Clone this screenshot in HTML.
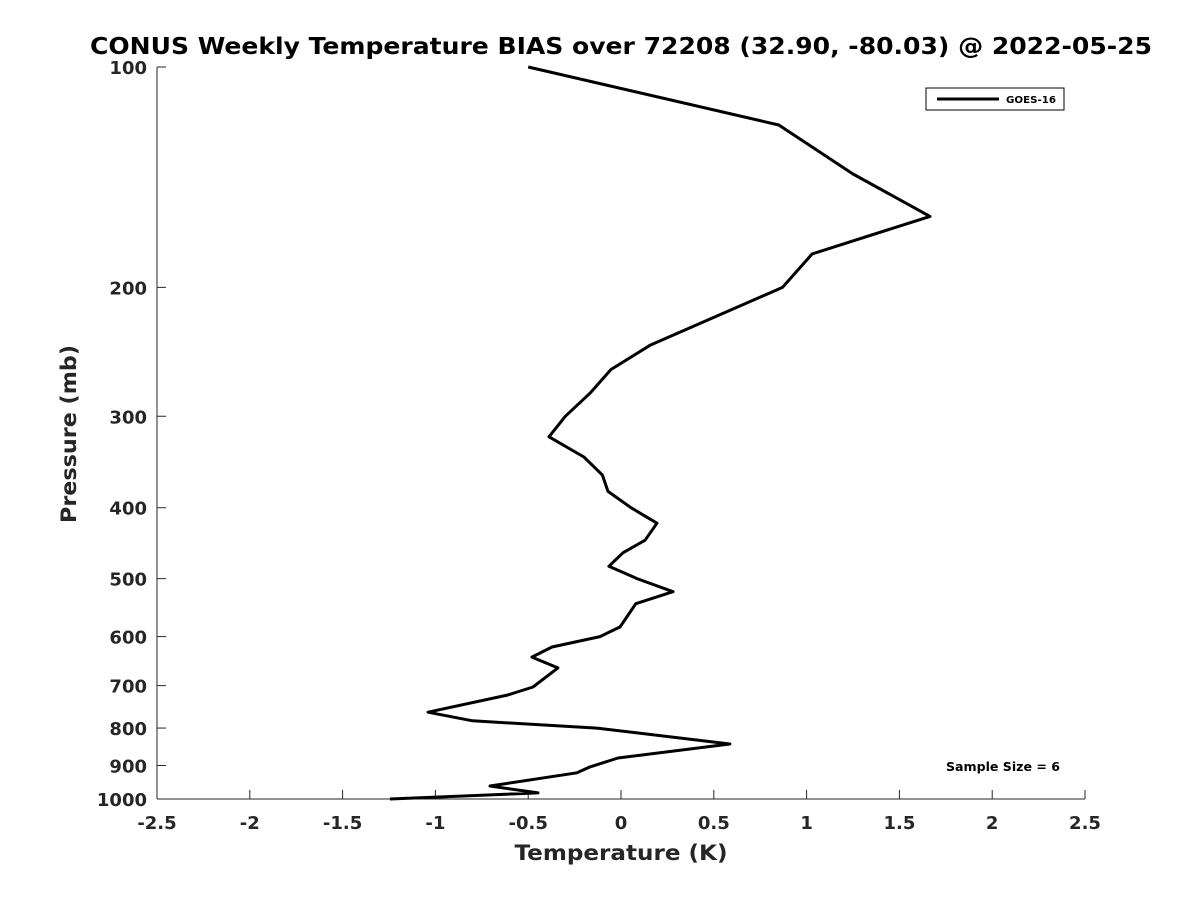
<!DOCTYPE html>
<html><head><meta charset="utf-8"><style>
body{margin:0;background:#fff;}
svg{display:block;font-family:"DejaVu Sans","Liberation Sans",sans-serif;}
</style></head><body>
<svg id="chart" width="1200" height="900">
<text x="621" y="54" text-anchor="middle" font-size="23" font-weight="bold" fill="#000" textLength="1062" lengthAdjust="spacingAndGlyphs">CONUS Weekly Temperature BIAS over 72208 (32.90, -80.03) @ 2022-05-25</text>
<g id="axes"></g>
<text x="621" y="860" text-anchor="middle" font-size="21" font-weight="bold" fill="#262626" textLength="213" lengthAdjust="spacingAndGlyphs">Temperature (K)</text>
<text transform="translate(76,434) rotate(-90)" text-anchor="middle" font-size="21" font-weight="bold" fill="#262626" textLength="178" lengthAdjust="spacingAndGlyphs">Pressure (mb)</text>
<g>
<rect x="926" y="88" width="138" height="22" fill="#fff" stroke="#000" stroke-width="1"/>
<line x1="937" y1="99" x2="999" y2="99" stroke="#000" stroke-width="3"/>
<text x="1006" y="103" font-size="10" font-weight="bold" fill="#000" textLength="50" lengthAdjust="spacingAndGlyphs">GOES-16</text>
</g>
<text x="1003" y="771" text-anchor="middle" font-size="12" font-weight="bold" fill="#000" textLength="114" lengthAdjust="spacingAndGlyphs">Sample Size = 6</text>
</svg>
<script>
const pressures=[100,120,140,160,180,200,240,259,279,300,320,341,361,380,400,420,443,461,481,500,521,541,582,600,620,640,662,703,721,761,782,800,841,879,904,921,960,981,1000];
const biases=[-0.5,0.85,1.25,1.665,1.03,0.87,0.156,-0.054,-0.167,-0.3,-0.388,-0.2,-0.1,-0.07,0.054,0.194,0.13,0.01,-0.065,0.086,0.28,0.08,-0.005,-0.113,-0.372,-0.48,-0.34,-0.474,-0.61,-1.04,-0.8,-0.13,0.587,-0.016,-0.167,-0.237,-0.706,-0.447,-1.245];
const xTicks=[-2.5,-2,-1.5,-1,-0.5,0,0.5,1,1.5,2,2.5];
const xTickLabels=["-2.5","-2","-1.5","-1","-0.5","0","0.5","1","1.5","2","2.5"];
const yTicks=[100,200,300,400,500,600,700,800,900,1000];
const yTickLabels=["100","200","300","400","500","600","700","800","900","1000"];
const X0=157,X1=1085,Y0=67,Y1=799;
function xs(v){return X0+(v+2.5)/5*(X1-X0);}
function ys(p){return Y0+(Math.log10(p)-2)*(Y1-Y0);}
const NS="http://www.w3.org/2000/svg";
const g=document.getElementById('axes');
function mk(t,a){const e=document.createElementNS(NS,t);for(const k in a)e.setAttribute(k,a[k]);g.appendChild(e);return e;}
let ax=mk('line',{x1:X0,y1:Y1,x2:X1,y2:Y1,stroke:'#262626','stroke-width':1});


let ay=mk('line',{x1:X0,y1:Y0,x2:X0,y2:Y1,stroke:'#262626','stroke-width':1});


xTicks.forEach((v,i)=>{
 const t=mk('line',{x1:xs(v),y1:Y1,x2:xs(v),y2:Y1-9,stroke:'#262626','stroke-width':1});
 
 
 const l=mk('text',{x:xs(v),y:Y1+30,'text-anchor':'middle','font-size':18,'font-weight':'bold',fill:'#262626'});
 l.textContent=xTickLabels[i];
 
 
});
yTicks.forEach((p,i)=>{
 const t=mk('line',{x1:X0,y1:ys(p),x2:X0+9,y2:ys(p),stroke:'#262626','stroke-width':1});
 
 
 const l=mk('text',{x:X0-10,y:ys(p)+7,'text-anchor':'end','font-size':18,'font-weight':'bold',fill:'#262626'});
 l.textContent=yTickLabels[i];
 
 
});
const pts=pressures.map((p,i)=>xs(biases[i]).toFixed(1)+','+ys(p).toFixed(1)).join(' ');
const line=mk('polyline',{points:pts,fill:'none',stroke:'#000','stroke-width':3,'stroke-linejoin':'round'});


</script>
</body></html>
